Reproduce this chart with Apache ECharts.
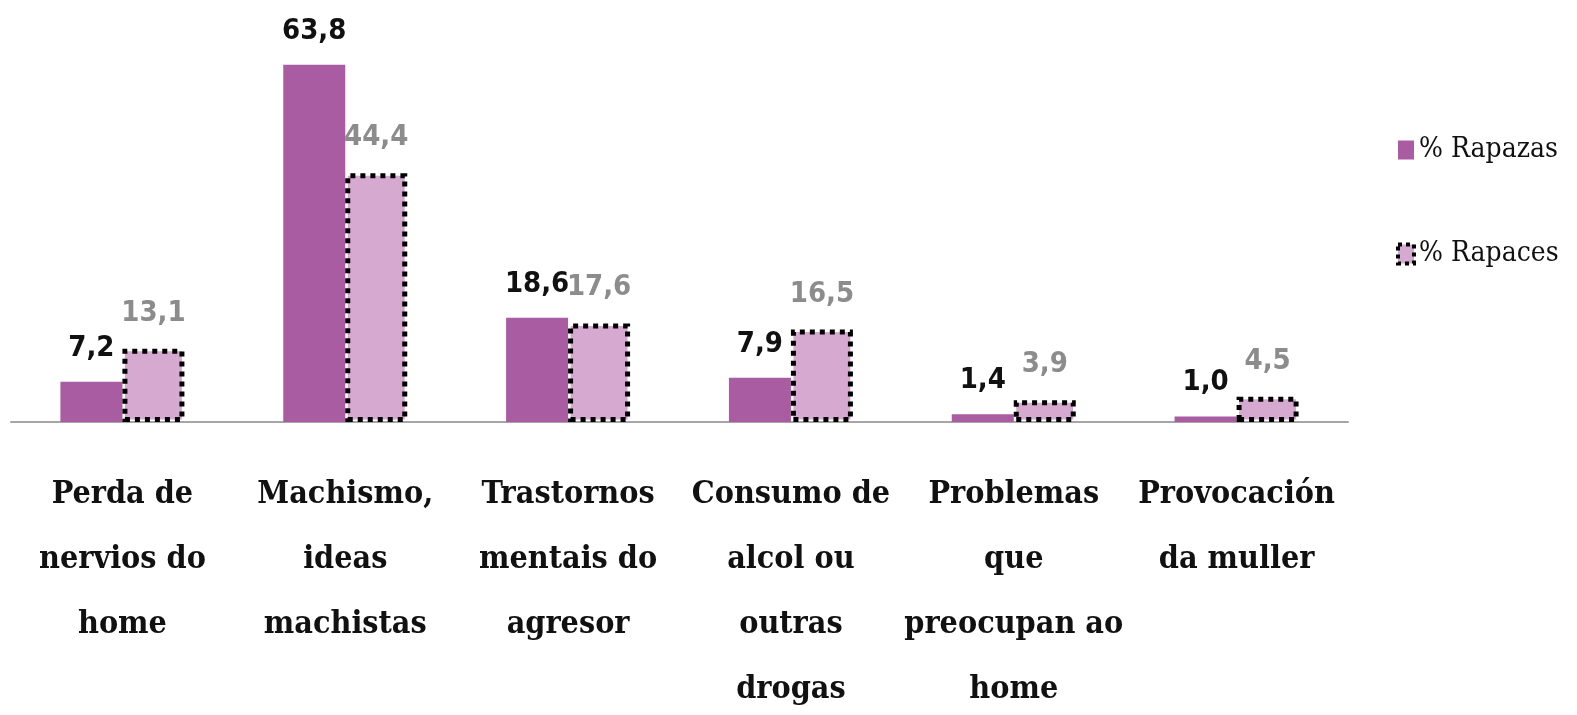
<!DOCTYPE html>
<html>
<head>
<meta charset="utf-8">
<script src="https://cdn.jsdelivr.net/npm/echarts@6/dist/echarts.min.js"></script>
<style>
  html, body { margin: 0; padding: 0; background: #fff; }
  #chart { width: 1577px; height: 715px; }
</style>
</head>
<body>
<div id="chart"></div>
<script>
// categorías (con saltos de liña como no orixinal)
const categories = [
  'Perda de\nnervios do\nhome',
  'Machismo,\nideas\nmachistas',
  'Trastornos\nmentais do\nagresor',
  'Consumo de\nalcol ou\noutras\ndrogas',
  'Problemas\nque\npreocupan ao\nhome',
  'Provocación\nda muller'
]
const rapazas = [7.2, 63.8, 18.6, 7.9, 1.4, 1.0]
const rapaces = [13.1, 44.4, 17.6, 16.5, 3.9, 4.5]
const seriesNames = ['% Rapazas', '% Rapaces']

const chart = echarts.init(document.getElementById('chart'))

const fmt = p => p.value.toFixed(1).replace('.', ',')

chart.setOption({
  animation: false,
  grid: { left: 11, right: 229, top: 30, bottom: 293, containLabel: false, outerBoundsMode: 'none' },
  legend: {
    orient: 'vertical',
    left: 1391,
    top: 131,
    itemGap: 76,
    itemWidth: 16,
    itemHeight: 19,
    itemTextGap: 6,
    icon: 'rect',
    textStyle: { fontFamily: 'DejaVu Serif Condensed', fontSize: 28, color: '#111' },
    data: [
      { name: seriesNames[0] },
      { name: seriesNames[1], itemStyle: { borderType: [4, 4], borderWidth: 4 } }
    ]
  },
  xAxis: {
    type: 'category',
    data: categories,
    axisLine: { lineStyle: { color: '#a6a6a6', width: 2 } },
    axisTick: { show: false },
    axisLabel: {
      interval: 0,
      margin: 40,
      fontFamily: 'DejaVu Serif Condensed',
      fontWeight: 'bold',
      fontSize: 32,
      lineHeight: 65,
      color: '#111'
    }
  },
  yAxis: {
    type: 'value',
    min: 0,
    max: 70,
    show: false,
    splitLine: { show: false }
  },
  series: [
    {
      name: seriesNames[0],
      type: 'bar',
      data: rapazas,
      barWidth: 62,
      barGap: '0%',
      itemStyle: { color: '#a95ca2' },
      label: {
        show: true,
        position: 'top',
        distance: 19,
        formatter: fmt,
        fontFamily: 'DejaVu Sans Condensed',
        fontWeight: 'bold',
        fontSize: 29,
        color: '#111'
      }
    },
    {
      name: seriesNames[1],
      type: 'bar',
      data: rapaces,
      barWidth: 62,
      itemStyle: {
        color: '#d6aad0',
        borderColor: '#000',
        borderWidth: 5,
        borderType: [5, 5]
      },
      label: {
        show: true,
        position: 'top',
        distance: 21,
        formatter: fmt,
        fontFamily: 'DejaVu Sans Condensed',
        fontWeight: 'bold',
        fontSize: 29,
        color: '#8c8c8c'
      }
    }
  ]
})
</script>
</body>
</html>
